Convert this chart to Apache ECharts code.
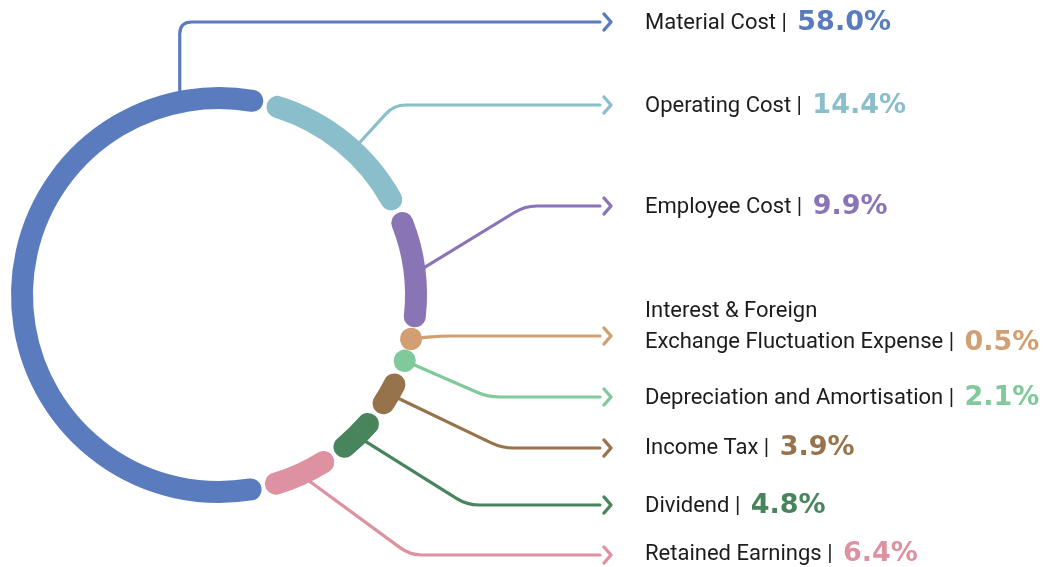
<!DOCTYPE html>
<html>
<head>
<meta charset="utf-8">
<script src="https://cdn.jsdelivr.net/npm/echarts@6/dist/echarts.min.js"></script>
<style>
  html, body { margin: 0; padding: 0; background: #fff; }
  #chart { width: 1046px; height: 567px; }
</style>
</head>
<body>
<div id="chart"></div>
<script>
// cost split, share of total (%)
const categories = [
  'Material Cost',
  'Operating Cost',
  'Employee Cost',
  'Interest & Foreign\nExchange Fluctuation Expense',
  'Depreciation and Amortisation',
  'Income Tax',
  'Dividend',
  'Retained Earnings'
];
const shares = [58.0, 14.4, 9.9, 0.5, 2.1, 3.9, 4.8, 6.4];
const colors = ['#5a7bbe', '#8bbecb', '#8974b5', '#d19f71', '#80c99b', '#96734a', '#48845c', '#de92a1'];

// label layout (pixels)
const labelY = [22, 105, 206, 336, 397, 448, 505, 555];
const textY = [23, 106, 207, 327, 398, 448, 506, 554];
const elbowX = [null, 394, 525, 440, 488, 502, 467, 410];
const anchorAt = [0.879, 0.57, 0.537, 0.5, 0.5, 0.5, 0.5, 0.5];

const ringStart = 167.0;   // degrees clockwise from 12 o'clock
const minShare = 1.6;      // tiny slices get at least this much room (like pie minAngle)
const ringWidth = 22;
const gapPx = 4;
const lineEndX = 600;
const textX = 645;

// display spans: small slices widened, the rest scaled down to keep 100
const smallSum = shares.filter(v => v < minShare).length * minShare;
const bigSum = shares.filter(v => v >= minShare).reduce((a, b) => a + b, 0);
const spans = shares.map(v => v < minShare ? minShare : v * (100 - smallSum) / bigSum);
const starts = [];
let acc = 0;
spans.forEach(v => { starts.push(acc); acc += v; });
const seriesData = spans.map((v, i) => [starts[i], starts[i] + v, i]);

function roundedPath(pts, rad) {
  let d = 'M' + pts[0][0] + ',' + pts[0][1];
  for (let k = 1; k < pts.length - 1; k++) {
    const p = pts[k - 1], c = pts[k], n = pts[k + 1];
    const l1 = Math.hypot(c[0] - p[0], c[1] - p[1]);
    const l2 = Math.hypot(n[0] - c[0], n[1] - c[1]);
    const r = Math.min(rad, l1 / 2, l2 / 2);
    if (r < 0.5) { d += ' L' + c[0] + ',' + c[1]; continue; }
    const ax = c[0] - (c[0] - p[0]) / l1 * r, ay = c[1] - (c[1] - p[1]) / l1 * r;
    const bx = c[0] + (n[0] - c[0]) / l2 * r, by = c[1] + (n[1] - c[1]) / l2 * r;
    d += ' L' + ax + ',' + ay + ' Q' + c[0] + ',' + c[1] + ' ' + bx + ',' + by;
  }
  const last = pts[pts.length - 1];
  return d + ' L' + last[0] + ',' + last[1];
}

function renderItem(params, api) {
  const i = api.value(2);
  const start = api.value(0), end = api.value(1);
  const cs = params.coordSys;
  const cx = cs.cx, cy = cs.cy, r = cs.r;
  const p0 = api.coord([1, start]), p1 = api.coord([1, end]);
  const a0 = Math.atan2(p0[1] - cy, p0[0] - cx);
  let a1 = Math.atan2(p1[1] - cy, p1[0] - cx);
  if (a1 <= a0) a1 += Math.PI * 2;
  const pad = (ringWidth / 2 + gapPx / 2) / r;
  let s = a0 + pad, e = a1 - pad;
  if (e - s < 0.002) {
    const m = (a0 + a1) / 2;
    s = m - 0.001; e = m + 0.001;
  }
  const anchor = api.coord([1, start + anchorAt[i] * (end - start)]);
  const y = labelY[i];
  const ex = elbowX[i] == null ? anchor[0] : elbowX[i];
  const pts = [anchor, [ex, y], [lineEndX, y]];
  const color = colors[i];
  return {
    type: 'group',
    children: [
      {
        type: 'path',
        shape: { pathData: roundedPath(pts, 12) },
        style: { fill: null, stroke: color, lineWidth: 3.2, lineCap: 'round', lineJoin: 'round' }
      },
      {
        type: 'polyline',
        shape: { points: [[lineEndX + 4, y - 8], [lineEndX + 11, y], [lineEndX + 4, y + 8]] },
        style: { fill: null, stroke: color, lineWidth: 3.4, lineCap: 'round', lineJoin: 'round' }
      },
      {
        type: 'arc',
        shape: { cx: cx, cy: cy, r: r, startAngle: s, endAngle: e, clockwise: true },
        style: { fill: null, stroke: color, lineWidth: ringWidth, lineCap: 'round' }
      },
      {
        type: 'text',
        x: textX,
        y: textY[i],
        style: {
          text: '{n|' + categories[i] + ' | }{p|' + shares[i].toFixed(1) + '%}',
          align: 'left',
          verticalAlign: 'middle',
          rich: {
            n: { fontFamily: 'Roboto', fontSize: 22, fill: '#1c1c1c', lineHeight: 31 },
            p: { fontFamily: 'DejaVu Sans', fontWeight: 'bold', fontSize: 27, fill: color, lineHeight: 31, padding: [0, 0, 0, 5] }
          }
        }
      }
    ]
  };
}

const chart = echarts.init(document.getElementById('chart'));
chart.setOption({
  animation: false,
  polar: { center: [219, 295], radius: 197 },
  angleAxis: { type: 'value', min: 0, max: 100, startAngle: 90 - ringStart, clockwise: true, show: false },
  radiusAxis: { type: 'value', min: 0, max: 1, show: false },
  series: [
    {
      type: 'custom',
      coordinateSystem: 'polar',
      silent: true,
      renderItem: renderItem,
      data: seriesData
    }
  ]
});
</script>
</body>
</html>
